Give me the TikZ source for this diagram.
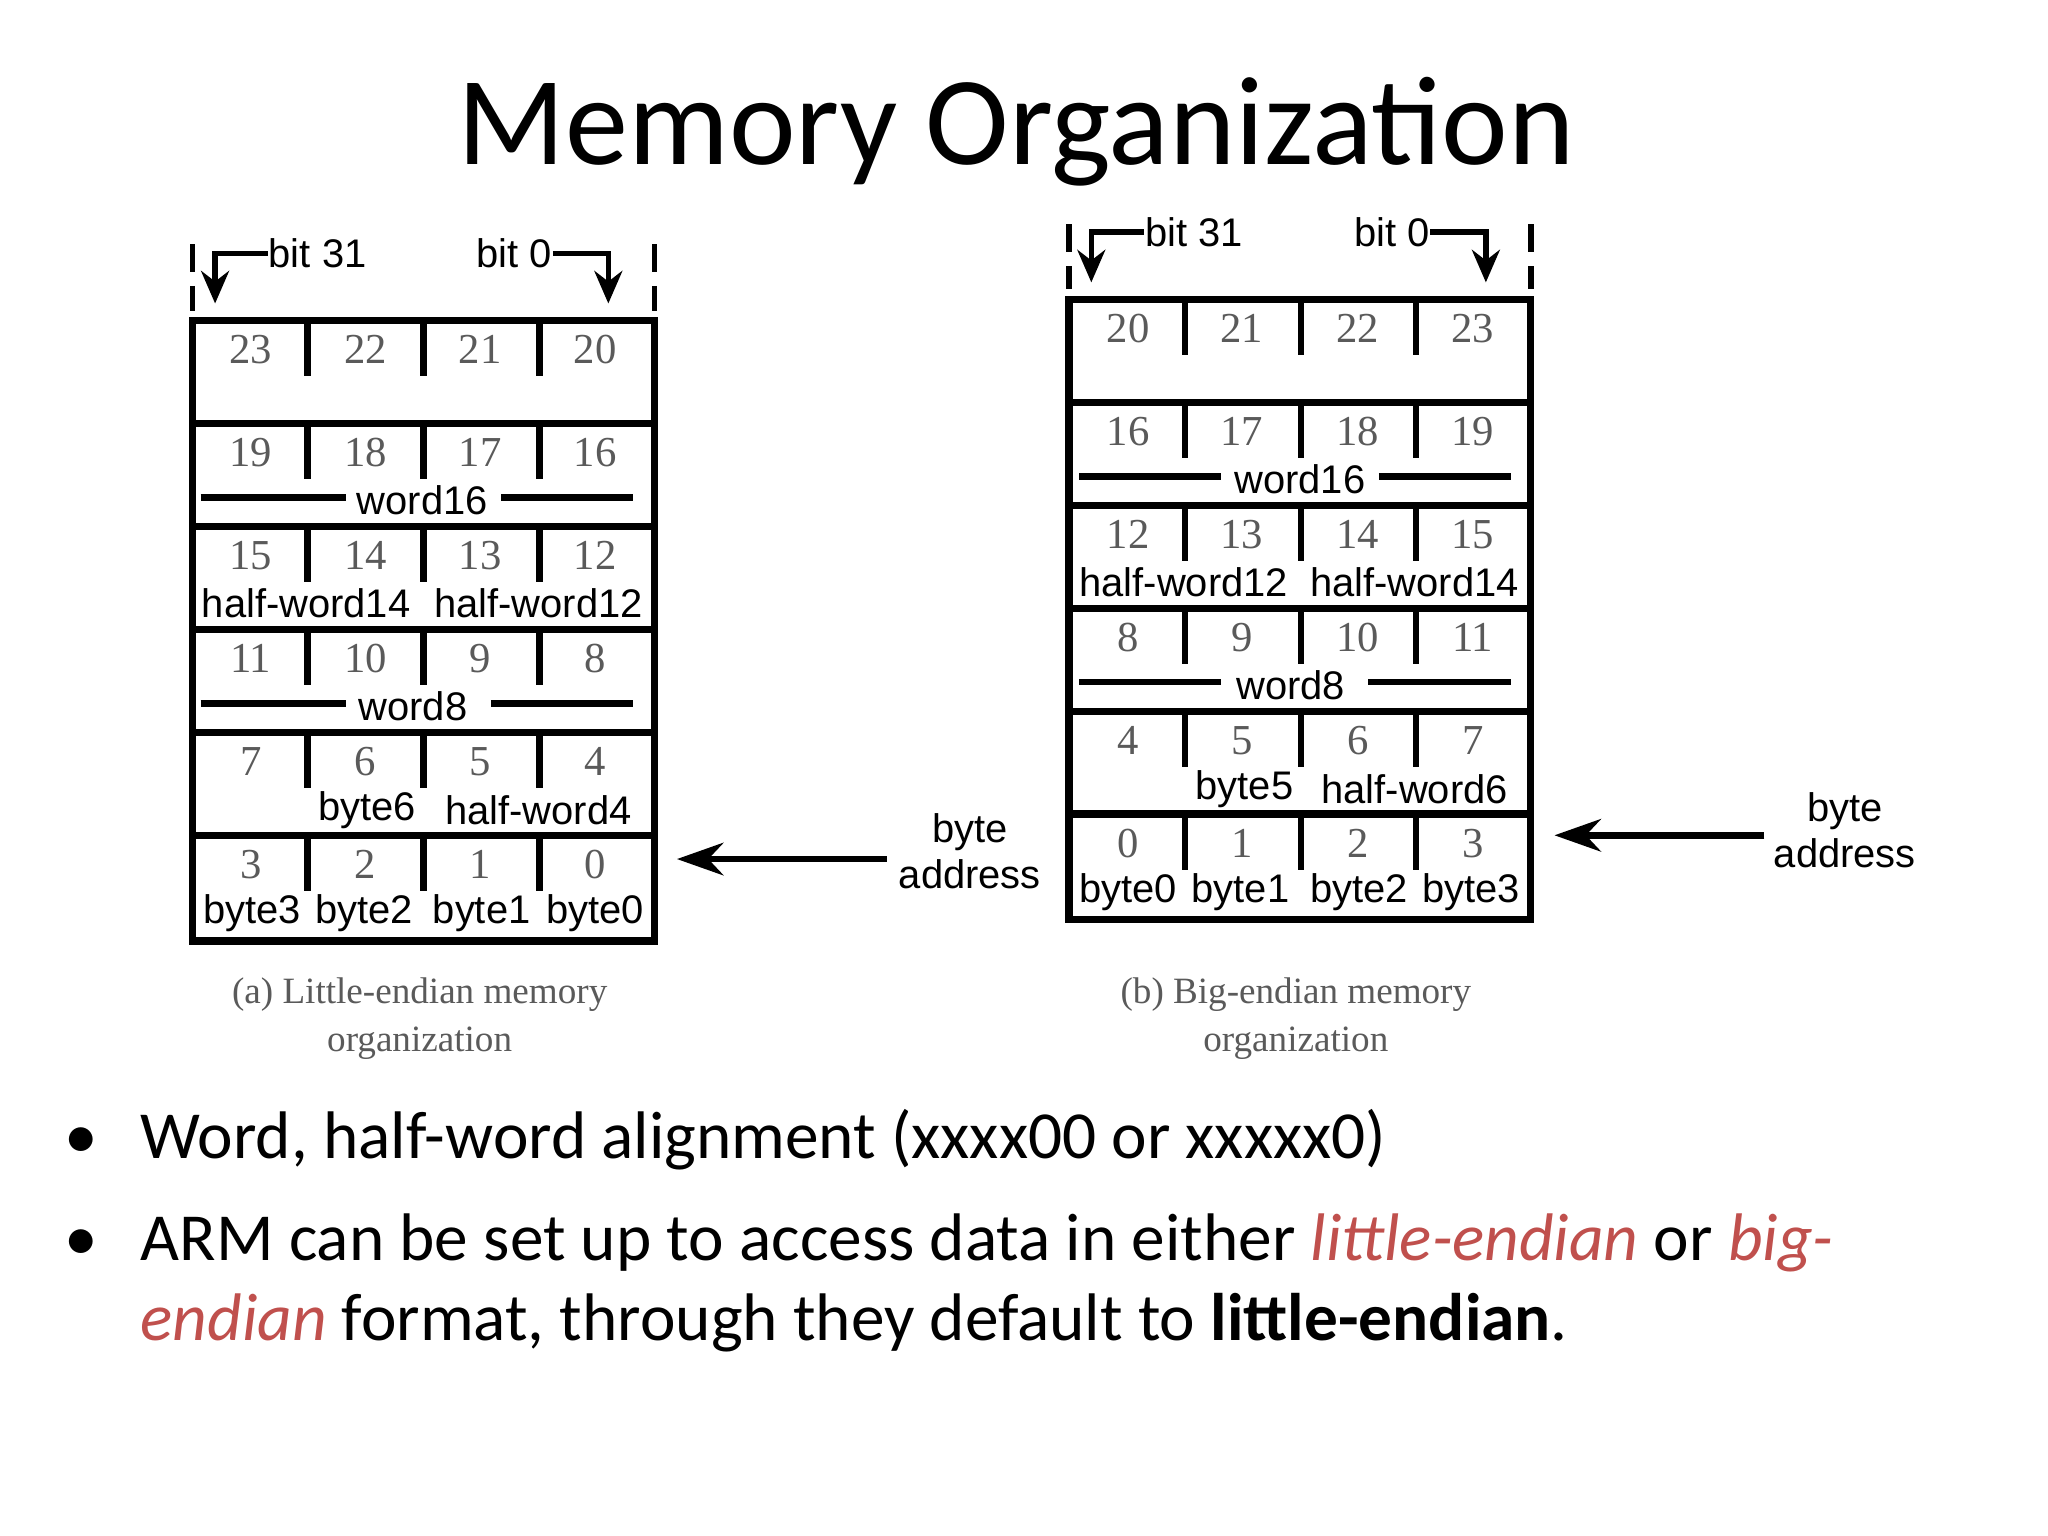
\documentclass[tikz,border=0pt]{standalone}
\usepackage{fontspec}
\setmainfont{Carlito}
\newfontfamily\lab{Liberation Sans}
\newfontfamily\num{Liberation Serif}
\usetikzlibrary{arrows.meta}
\definecolor{redish}{RGB}{192,80,77}
\definecolor{numgray}{RGB}{90,90,90}
\begin{document}
\begin{tikzpicture}[x=0.01cm,y=-0.01cm,
  box/.style={line width=1.6pt},
  tick/.style={line width=1.4pt},
  numt/.style={font=\num\fontsize{9.2}{10}\selectfont, text=numgray, inner sep=0},
  labt/.style={font=\lab\fontsize{8.6}{9}\selectfont, inner sep=0},
  capt/.style={font=\num\fontsize{8}{10.5}\selectfont, text=numgray, align=center, inner sep=0},
  dashln/.style={line width=1.2pt, dash pattern=on 6pt off 3pt},
  bitarr/.style={line width=1.2pt, -{Stealth[length=7pt,width=6pt]}},
  addr/.style={line width=1.4pt, -{Stealth[length=10pt,width=7pt]}},
  body/.style={font=\fontsize{14.5}{17}\selectfont, anchor=base west, inner sep=0}]
\useasboundingbox (0,0) rectangle (1552,1164);
\fill[white] (0,0) rectangle (1552,1164);
\node[font=\fontsize{27.2}{32}\selectfont] (title) at (770,100) {Memory Organization};

% ---------- left table ----------
\def\Lx{146}\def\Rx{496}
\foreach \t/\a/\b/\c/\d [count=\i] in {243/23/22/21/20,321/19/18/17/16,399/15/14/13/12,477/11/10/9/8,555/7/6/5/4,633/3/2/1/0}{
  \draw[box] (\Lx,\t) -- (\Rx,\t);
  \foreach \cx in {233,321,409} \draw[tick] (\cx,\t) -- (\cx,\t+42);
  \node[numt] (la\i) at (190,\t+22) {\a};
  \node[numt] (lb\i) at (277,\t+22) {\b};
  \node[numt] (lc\i) at (364,\t+22) {\c};
  \node[numt] (ld\i) at (451,\t+22) {\d};
}
\draw[box] (\Lx,243) rectangle (\Rx,713);
\node[labt] (lw16) at (320,379) {word16};
\draw[tick] (152,377) -- (262,377); \draw[tick] (380,377) -- (480,377);
\node[labt] (lh14) at (232,457) {half-word14};
\node[labt] (lh12) at (408,457) {half-word12};
\node[labt] (lw8) at (313,535) {word8};
\draw[tick] (152,533) -- (262,533); \draw[tick] (372,533) -- (480,533);
\node[labt] (lb6) at (278,614) {byte6};
\node[labt] (lh4) at (408,614) {half-word4};
\node[labt] (lby3) at (191,692) {byte3};
\node[labt] (lby2) at (276,692) {byte2};
\node[labt] (lby1) at (365,692) {byte1};
\node[labt] (lby0) at (451,692) {byte0};
\draw[dashln] (146,185) -- (146,236); \draw[dashln] (496,185) -- (496,236);
\node[labt,anchor=west] (lbit31) at (203,192) {bit 31};
\node[labt,anchor=east] (lbit0) at (419,192) {bit 0};
\draw[bitarr] (lbit31.west) -- (163,192) -- (163,230);
\draw[bitarr] (lbit0.east) -- (461,192) -- (461,230);
\node[labt,align=center] (laddr) at (735,645) {byte\\[1pt]address};
\coordinate (lend) at (513,651);
\draw[addr] (672,651) -- (lend);
\node[capt] (lcap) at (318,772) {(a) Little-endian memory\\organization};

% ---------- right table ----------
\def\Lx{810}\def\Rx{1160}
\foreach \t/\a/\b/\c/\d [count=\i] in {227/20/21/22/23,305/16/17/18/19,383/12/13/14/15,461/8/9/10/11,539/4/5/6/7,617/0/1/2/3}{
  \draw[box] (\Lx,\t) -- (\Rx,\t);
  \foreach \cx in {898,986,1073} \draw[tick] (\cx,\t) -- (\cx,\t+42);
  \node[numt] (ra\i) at (855,\t+22) {\a};
  \node[numt] (rb\i) at (941,\t+22) {\b};
  \node[numt] (rc\i) at (1029,\t+22) {\c};
  \node[numt] (rd\i) at (1116,\t+22) {\d};
}
\draw[box] (\Lx,227) rectangle (\Rx,697);
\node[labt] (rw16) at (985,363) {word16};
\draw[tick] (818,361) -- (925,361); \draw[tick] (1045,361) -- (1145,361);
\node[labt] (rh12) at (897,441) {half-word12};
\node[labt] (rh14) at (1072,441) {half-word14};
\node[labt] (rw8) at (978,519) {word8};
\draw[tick] (818,517) -- (925,517); \draw[tick] (1037,517) -- (1145,517);
\node[labt] (rb5) at (943,598) {byte5};
\node[labt] (rh6) at (1072,598) {half-word6};
\node[labt] (rby0) at (855,676) {byte0};
\node[labt] (rby1) at (940,676) {byte1};
\node[labt] (rby2) at (1030,676) {byte2};
\node[labt] (rby3) at (1115,676) {byte3};
\draw[dashln] (810,170) -- (810,219); \draw[dashln] (1160,170) -- (1160,219);
\node[labt,anchor=west] (rbit31) at (867,176) {bit 31};
\node[labt,anchor=east] (rbit0) at (1084,176) {bit 0};
\draw[bitarr] (rbit31.west) -- (827,176) -- (827,214);
\draw[bitarr] (rbit0.east) -- (1126,176) -- (1126,214);
\node[labt,align=center] (raddr) at (1398,629) {byte\\[1pt]address};
\coordinate (rend) at (1178,633);
\draw[addr] (1337,633) -- (rend);
\node[capt] (rcap) at (982,772) {(b) Big-endian memory\\organization};

% ---------- bullets ----------
\node[body] (b1) at (48,878) {•};
\node[body] (t1) at (106,878) {Word, half-word alignment (xxxx00 or xxxxx0)};
\node[body] (b2) at (48,955) {•};
\node[body] (t2) at (106,955) {ARM can be set up to access data in either \textcolor{redish}{\textit{little-endian}} or \textcolor{redish}{\textit{big-}}};
\node[body] (t3) at (106,1016) {\textcolor{redish}{\textit{endian}} format, through they default to \textbf{little-endian}.};
\end{tikzpicture}
\end{document}
